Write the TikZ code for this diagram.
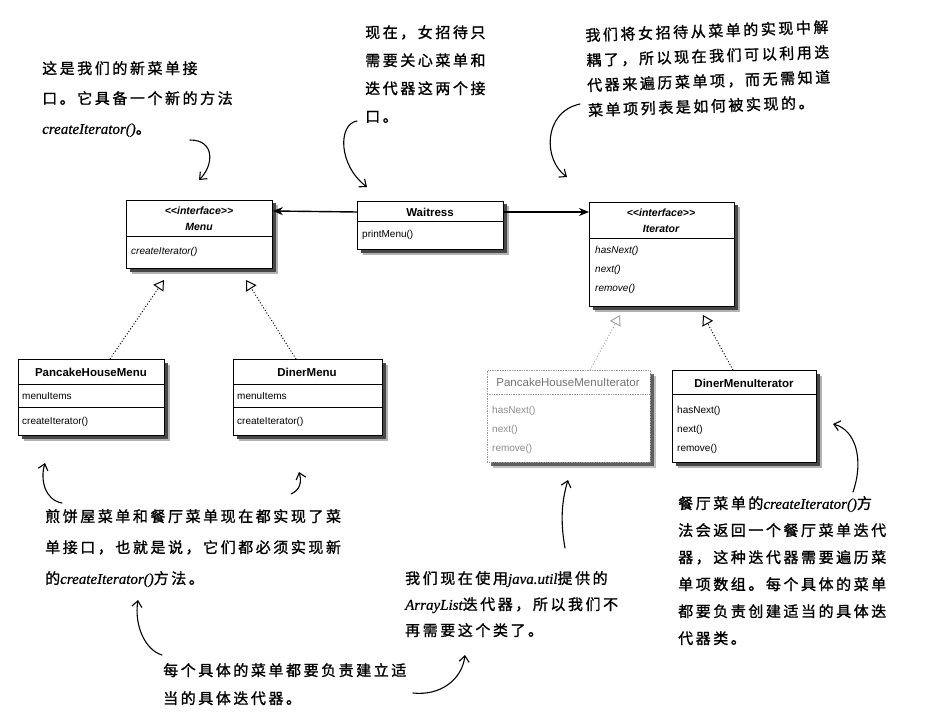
\documentclass[tikz,border=0pt]{standalone}
\usepackage{fontspec}
\setmainfont{Liberation Sans}
\newfontfamily\hand{Noto Sans CJK SC}[LetterSpace=17, FakeBold=1.2]
\newfontfamily\handlat{Liberation Serif}[Scale=1.0, FakeBold=0.6]
\newcommand\code[1]{{\handlat\itshape #1}}
\newcommand\annfont[1]{\hand\fontsize{15}{#1}\selectfont}
\newcommand\stereotype{\textless\kern0pt\textless interface\textgreater\kern0pt\textgreater}
\usetikzlibrary{arrows.meta,calc,backgrounds}

\tikzset{
  umlbox/.style={draw, line width=0.9pt, fill=white, anchor=north west, inner sep=0pt},
  ghostbox/.style={draw=black!40, densely dotted, line width=0.7pt, fill=white, anchor=north west, inner sep=0pt},
  sep/.style={line width=0.8pt},
  ghostsep/.style={draw=black!40, densely dotted, line width=0.7pt},
  ttl/.style={font=\bfseries\fontsize{11.5}{13}\selectfont, inner sep=0pt},
  stereo/.style={font=\bfseries\itshape\fontsize{10.5}{12}\selectfont, inner sep=0pt},
  member/.style={font=\fontsize{10}{12}\selectfont, inner sep=0pt, anchor=west},
  imember/.style={font=\itshape\fontsize{10}{12}\selectfont, inner sep=0pt, anchor=west},
  assoc/.style={line width=1.4pt, -{Stealth[length=10pt,width=8pt]}},
  realize/.style={line width=1pt, dotted, -{Triangle[open,length=10pt,width=12pt,line width=1pt]}},
  ghostrealize/.style={realize, draw=black!35},
  hand arrow/.style={line width=1.1pt, line cap=round, -{Straight Barb[length=6pt,width=10pt,line width=1.1pt]}},
  ann/.style={align=left, inner sep=0pt, anchor=north west},
  shadowouter/.style={fill=black!30},
  shadowinner/.style={fill=black!72},
}
% soft shadow to the lower right of a box node
\newcommand\boxshadow[2][1]{%
  \fill[shadowouter, opacity=#1] ($(#2.north west)+(5.5,5.5)$) rectangle ($(#2.south east)+(5.5,5.5)$);
  \fill[shadowinner, opacity=#1] ($(#2.north west)+(3.5,3.5)$) rectangle ($(#2.south east)+(3.5,3.5)$);}

\begin{document}
\begin{tikzpicture}[x=1pt,y=-1pt]
\useasboundingbox (0,0) rectangle (934,714);

% ---------- classes ----------
\node[umlbox, minimum width=146pt, minimum height=68pt] (menu) at (126,200) {};
\draw[sep] ($(menu.north west)+(0,36)$) -- ($(menu.north east)+(0,36)$);
\node[stereo] (menuS) at (199,211) {\stereotype};
\node[stereo] (menuN) at (199,227) {Menu};
\node[imember] (menuM) at (131,252) {createIterator()};

\node[umlbox, minimum width=146pt, minimum height=48pt] (waitress) at (357,201) {};
\draw[sep] ($(waitress.north west)+(0,20)$) -- ($(waitress.north east)+(0,20)$);
\node[ttl] (waitressN) at (430,212) {Waitress};
\node[member] (waitressM) at (362,235) {printMenu()};

\node[umlbox, minimum width=145pt, minimum height=104pt] (iter) at (589,202) {};
\draw[sep] ($(iter.north west)+(0,36)$) -- ($(iter.north east)+(0,36)$);
\node[stereo] (iterS) at (661,213) {\stereotype};
\node[stereo] (iterN) at (661,229) {Iterator};
\node[imember] (iterM1) at (595,251) {hasNext()};
\node[imember] (iterM2) at (595,270) {next()};
\node[imember] (iterM3) at (595,289) {remove()};

\node[umlbox, minimum width=146pt, minimum height=76pt] (phm) at (18,359) {};
\draw[sep] ($(phm.north west)+(0,25)$) -- ($(phm.north east)+(0,25)$);
\draw[sep] ($(phm.north west)+(0,48)$) -- ($(phm.north east)+(0,48)$);
\node[ttl] (phmN) at (91,372) {PancakeHouseMenu};
\node[member] (phmF) at (22,396) {menuItems};
\node[member] (phmM) at (22,422) {createIterator()};

\node[umlbox, minimum width=149pt, minimum height=76pt] (diner) at (233,359) {};
\draw[sep] ($(diner.north west)+(0,25)$) -- ($(diner.north east)+(0,25)$);
\draw[sep] ($(diner.north west)+(0,48)$) -- ($(diner.north east)+(0,48)$);
\node[ttl] (dinerN) at (307,372) {DinerMenu};
\node[member] (dinerF) at (237,396) {menuItems};
\node[member] (dinerM) at (237,422) {createIterator()};

\node[ghostbox, minimum width=163pt, minimum height=92pt] (phmi) at (487,370) {};
\draw[ghostsep] ($(phmi.north west)+(0,24)$) -- ($(phmi.north east)+(0,24)$);
\node[ttl, font=\fontsize{11.5}{13}\selectfont, text=black!55] (phmiN) at (568,382) {PancakeHouseMenuIterator};
\node[member, text=black!45] (phmiM1) at (492,411) {hasNext()};
\node[member, text=black!45] (phmiM2) at (492,430) {next()};
\node[member, text=black!45] (phmiM3) at (492,449) {remove()};

\node[umlbox, minimum width=144pt, minimum height=92pt] (dmi) at (672,370) {};
\draw[sep] ($(dmi.north west)+(0,24)$) -- ($(dmi.north east)+(0,24)$);
\node[ttl] (dmiN) at (744,383) {DinerMenuIterator};
\node[member] (dmiM1) at (677,411) {hasNext()};
\node[member] (dmiM2) at (677,430) {next()};
\node[member] (dmiM3) at (677,449) {remove()};

% ---------- page and box shadows ----------
\begin{scope}[on background layer]
  \fill[white] (0,0) rectangle (934,714);
  \boxshadow{menu}
  \boxshadow{waitress}
  \boxshadow{iter}
  \boxshadow{phm}
  \boxshadow{diner}
  \boxshadow[0.8]{phmi}
  \boxshadow{dmi}
\end{scope}

% ---------- associations ----------
\draw[assoc] ($(waitress.north west)+(0,11)$) -- ($(menu.north east)+(0,11)$);
\draw[assoc] ($(waitress.north east)+(0,11)$) -- ($(iter.north west)+(0,10)$);

% ---------- realizations ----------
\coordinate (menuTipA) at (164,280);
\coordinate (menuTipB) at (246,280);
\coordinate (iterTipA) at (620,315);
\coordinate (iterTipB) at (703,315);
\coordinate (phmTop) at (110,359);
\coordinate (dinerTop) at (296,359);
\coordinate (phmiTop) at (590,370);
\coordinate (dmiTop) at (733,370);
\draw[realize] (phmTop) -- (menuTipA);
\draw[realize] (dinerTop) -- (menuTipB);
\draw[ghostrealize] (phmiTop) -- (iterTipA);
\draw[realize] (dmiTop) -- (iterTipB);

% ---------- notes ----------
\node[ann, font=\annfont{30}] (noteMenu) at (42,61)
  {这是我们的新菜单接\\口。它具备一个新的方法\\\code{createIterator()}。};
\node[ann, font=\annfont{28}] (noteWaitress) at (365,25)
  {现在，女招待只\\需要关心菜单和\\迭代器这两个接\\口。};
\node[ann, font=\annfont{25}, rotate=2] (noteIter) at (585,28)
  {我们将女招待从菜单的实现中解\\耦了，所以现在我们可以利用迭\\代器来遍历菜单项，而无需知道\\菜单项列表是如何被实现的。};
\node[ann, font=\annfont{31}] (noteImpl) at (45,509)
  {煎饼屋菜单和餐厅菜单现在都实现了菜\\单接口，也就是说，它们都必须实现新\\的\code{createIterator()}方法。};
\node[ann, font=\annfont{28}] (noteEach) at (163,663)
  {每个具体的菜单都要负责建立适\\当的具体迭代器。};
\node[ann, font=\annfont{26}] (noteList) at (405,571)
  {我们现在使用\code{java.util}提供的\\\code{ArrayList}迭代器，所以我们不\\再需要这个类了。};
\node[ann, font=\annfont{27}] (noteDiner) at (678,496)
  {餐厅菜单的\code{createIterator()}方\\法会返回一个餐厅菜单迭代\\器，这种迭代器需要遍历菜\\单项数组。每个具体的菜单\\都要负责创建适当的具体迭\\代器类。};

% ---------- hand-drawn pointers ----------
\coordinate (pA0) at (190,140);  \coordinate (pA1) at (199,180);
\coordinate (pB0) at (357,121);  \coordinate (pB1) at (367,187);
\coordinate (pC0) at (580,104);  \coordinate (pC1) at (567,177);
\coordinate (pD0) at (62,503);   \coordinate (pD1) at (45,463);
\coordinate (pE0) at (291,494);  \coordinate (pE1) at (299,472);
\coordinate (pF0) at (162,655);  \coordinate (pF1) at (138,600);
\coordinate (pG0) at (413,693);  \coordinate (pG1) at (465,655);
\coordinate (pH0) at (565,548);  \coordinate (pH1) at (568,480);
\coordinate (pI0) at (853,492);  \coordinate (pI1) at (833,424);
\draw[hand arrow] (pA0) .. controls (215,140) and (214,165) .. (pA1);
\draw[hand arrow] (pB0) .. controls (338,124) and (338,165) .. (pB1);
\draw[hand arrow] (pC0) .. controls (543,112) and (543,160) .. (pC1);
\draw[hand arrow] (pD0) .. controls (45,500) and (40,480) .. (pD1);
\draw[hand arrow] (pE0) .. controls (300,490) and (302,482) .. (pE1);
\draw[hand arrow] (pF0) .. controls (145,650) and (134,625) .. (pF1);
\draw[hand arrow] (pG0) .. controls (440,696) and (462,680) .. (pG1);
\draw[hand arrow] (pH0) .. controls (560,520) and (562,500) .. (pH1);
\draw[hand arrow] (pI0) .. controls (864,460) and (856,430) .. (pI1);
\end{tikzpicture}
\end{document}
